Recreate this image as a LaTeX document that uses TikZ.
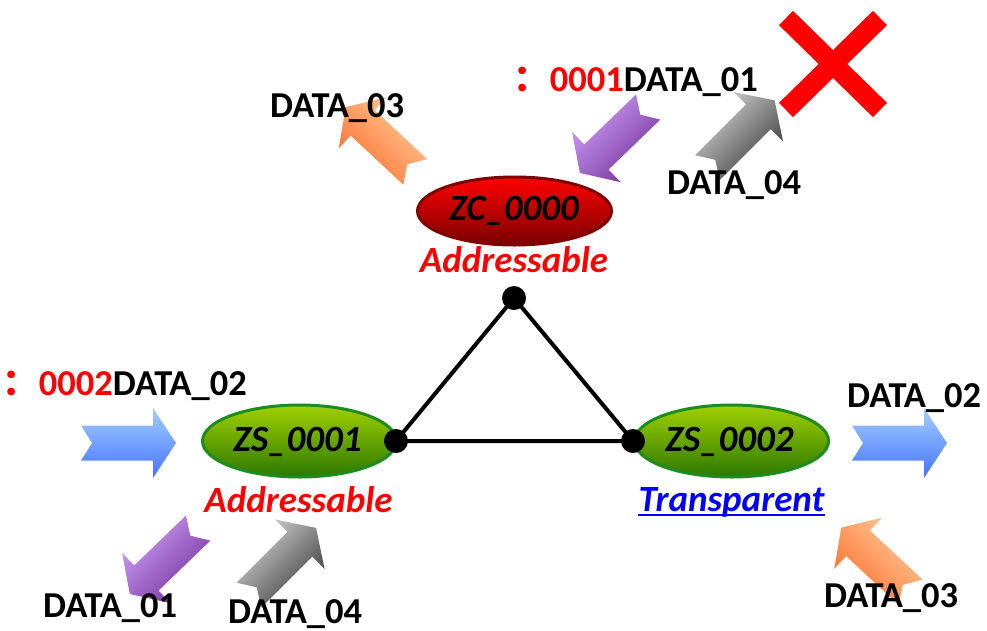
\documentclass[tikz,border=0pt]{standalone}
\usepackage{fontspec}
\setmainfont{Carlito}
\newfontfamily\cjk{Noto Sans CJK SC}
\usetikzlibrary{shapes.geometric}
\definecolor{bluelt}{HTML}{A4CEFF}
\definecolor{bluedk}{HTML}{4474FF}
\definecolor{orglt}{HTML}{FFCC99}
\definecolor{orgdk}{HTML}{FF7030}
\definecolor{purlt}{HTML}{CDA0F5}
\definecolor{purdk}{HTML}{74309C}
\definecolor{grylt}{HTML}{D4D4D4}
\definecolor{grydk}{HTML}{3C3C3C}
\definecolor{redtop}{HTML}{FF0000}
\definecolor{redbot}{HTML}{7A0000}
\definecolor{redbd}{HTML}{800000}
\definecolor{grntop}{HTML}{A0D000}
\definecolor{grnbot}{HTML}{2C7800}
\definecolor{grnbd}{HTML}{1E8C1E}
\tikzset{
  fatarrow/.pic={
    \shade[pic actions] (-47.5,17.5) -- (24.5,17.5) -- (24.5,35) -- (47.5,0)
      -- (24.5,-35) -- (24.5,-17.5) -- (-47.5,-17.5) -- (-36.5,0) -- cycle;
  },
  bluearrow/.style={top color=bluelt, bottom color=bluedk},
  orgarrow/.style={top color=orglt, bottom color=orgdk, shading angle=-45},
  purarrow/.style={top color=purlt, bottom color=purdk, shading angle=45},
  gryarrow/.style={top color=grylt, bottom color=grydk, shading angle=45},
  datatxt/.style={font=\fontsize{36.5}{42}\selectfont\bfseries, inner sep=0},
  lbltxt/.style={font=\fontsize{37}{42}\selectfont\bfseries\itshape, inner sep=0},
  zcnode/.style={ellipse, minimum width=194, minimum height=68, inner sep=0,
    top color=redtop, bottom color=redbot, draw=redbd, line width=3},
  zsnode/.style={ellipse, minimum width=194, minimum height=72, inner sep=0,
    top color=grntop, bottom color=grnbot, draw=grnbd, line width=3},
  dot/.style={circle, fill=black, minimum size=24, inner sep=0},
  link/.style={line width=4, black},
  cross/.style={red, line width=20}
}
\begin{document}
\begin{tikzpicture}[x=1pt,y=-1pt]
\useasboundingbox (0,0) rectangle (987,630);

% ellipses
\node[zcnode] (zc) at (514.5,211) {};
\node[zsnode] (zs1) at (299.5,441) {};
\node[zsnode] (zs2) at (731.5,441) {};

% triangle
\coordinate (t) at (514,298);
\coordinate (l) at (396,441);
\coordinate (r) at (633,441);
\draw[link] (t) -- (l) -- (r) -- cycle;
\node[dot] (td) at (t) {};
\node[dot] (ld) at (l) {};
\node[dot] (rd) at (r) {};

% arrows
\pic[bluearrow] at (128.5,443) {fatarrow};
\pic[bluearrow] at (899.5,443) {fatarrow};
\pic[orgarrow, rotate=137] at (380.5,139.5) {fatarrow};
\pic[orgarrow, rotate=137] at (876,560) {fatarrow};
\pic[purarrow, rotate=224] at (614,140) {fatarrow};
\pic[purarrow, rotate=224] at (164,561) {fatarrow};
\pic[gryarrow, rotate=45] at (741,134) {fatarrow};
\pic[gryarrow, rotate=45] at (282.5,561.5) {fatarrow};

% cross
\coordinate (xa) at (786,18);
\coordinate (xb) at (880,110);
\coordinate (xc) at (880,18);
\coordinate (xd) at (786,110);
\draw[cross] (xa) -- (xb);
\draw[cross] (xc) -- (xd);

% node labels
\node[lbltxt, anchor=base] (zct) at (514,220) {ZC\_0000};
\node[lbltxt, anchor=base] (zs1t) at (297.5,451) {ZS\_0001};
\node[lbltxt, anchor=base] (zs2t) at (729.5,451) {ZS\_0002};
\node[lbltxt, anchor=base, red] (zca) at (514,272) {Addressable};
\node[lbltxt, anchor=base, red] (zs1a) at (298.5,512) {Addressable};
\node[lbltxt, anchor=base, blue] (zs2a) at (731.5,511) {Transparent};
\draw[blue, line width=2.5] ([yshift=-4]zs2a.base west) -- ([yshift=-4]zs2a.base east);

% data labels
\node[datatxt, anchor=base west] (d3a) at (270,117) {DATA\_03};
\node[datatxt, anchor=base east] (d1a) at (758,91) {\textcolor{red}{{\cjk\bfseries ：}0001}DATA\_01};
\node[datatxt, anchor=base west] (d4a) at (667,194) {DATA\_04};
\node[datatxt, anchor=base east] (d2a) at (247,395) {\textcolor{red}{{\cjk\bfseries ：}0002}DATA\_02};
\node[datatxt, anchor=base west] (d2b) at (847,407) {DATA\_02};
\node[datatxt, anchor=base west] (d1b) at (43,617) {DATA\_01};
\node[datatxt, anchor=base west] (d4b) at (228,623) {DATA\_04};
\node[datatxt, anchor=base west] (d3b) at (824,607) {DATA\_03};
\end{tikzpicture}
\end{document}
